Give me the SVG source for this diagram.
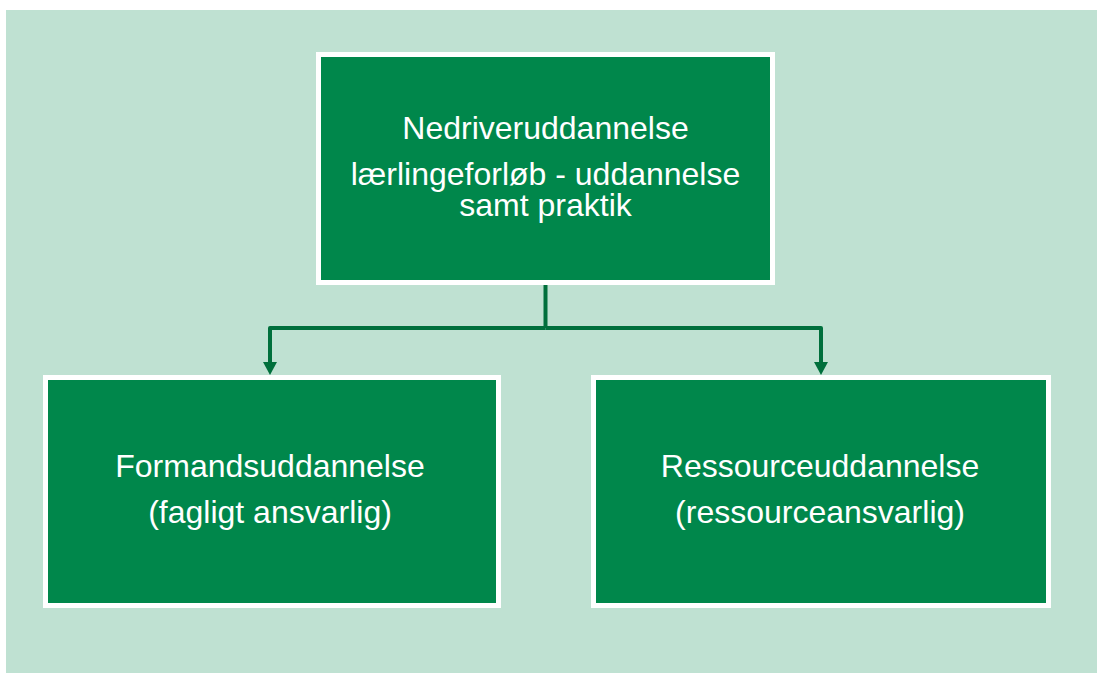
<svg xmlns="http://www.w3.org/2000/svg" width="1097" height="673" viewBox="0 0 1097 673">
<style>
.box{fill:#00874b;stroke:#ffffff;stroke-width:5}
.t{font-family:"Liberation Sans",Arial,sans-serif;font-size:32px;fill:#ffffff;text-anchor:middle}
.c{fill:none;stroke:#006f3c;stroke-width:4;stroke-linejoin:round}
</style>
<defs>
<marker id="ah" viewBox="0 0 13 14" refX="0" refY="7" markerWidth="13" markerHeight="14" markerUnits="userSpaceOnUse" orient="auto">
<path d="M0,0 L13,7 L0,14 Z" fill="#006f3c"/>
</marker>
</defs>
<rect x="0" y="0" width="1097" height="673" fill="#ffffff"/>
<rect x="6" y="10" width="1091" height="663" fill="#bfe1d2"/>
<g id="connectors">
<path class="c" d="M545.5,285 V328"/>
<path class="c" d="M545.5,328 H270 V362" marker-end="url(#ah)"/>
<path class="c" d="M545.5,328 H821 V362" marker-end="url(#ah)"/>
</g>
<g id="node-top">
<rect class="box" x="318.5" y="54.5" width="454" height="228"/>
<text class="t" x="545.5" y="139">Nedriveruddannelse</text>
<text class="t" x="545.5" y="185">lærlingeforløb - uddannelse</text>
<text class="t" x="545.5" y="216">samt praktik</text>
</g>
<g id="node-left">
<rect class="box" x="45.5" y="377.5" width="453" height="228"/>
<text class="t" x="270" y="477">Formandsuddannelse</text>
<text class="t" x="270" y="523">(fagligt ansvarlig)</text>
</g>
<g id="node-right">
<rect class="box" x="593.5" y="377.5" width="455" height="228"/>
<text class="t" x="820" y="477">Ressourceuddannelse</text>
<text class="t" x="820" y="523">(ressourceansvarlig)</text>
</g>
</svg>
